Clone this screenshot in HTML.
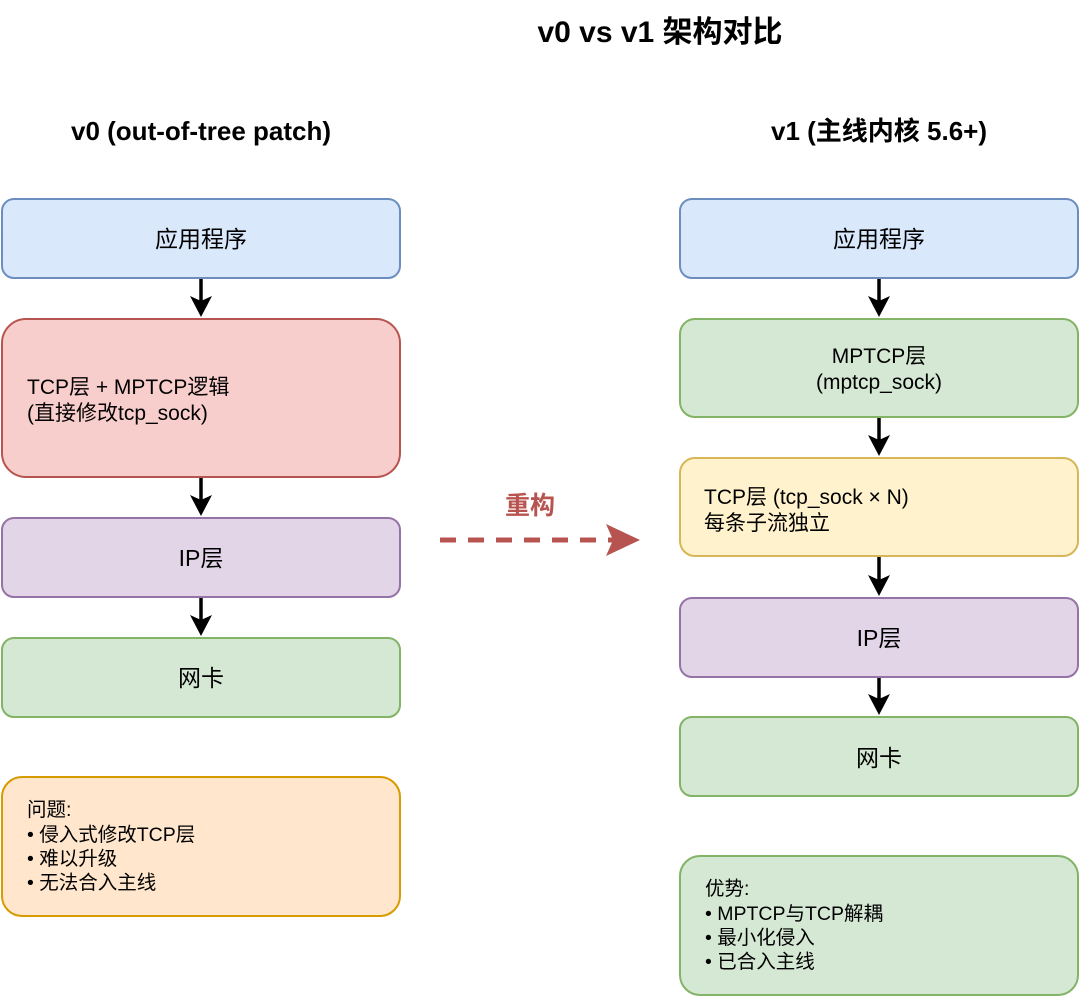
<!DOCTYPE html>
<html><head><meta charset="utf-8"><style>
html,body{margin:0;padding:0;background:#fff;}
svg{display:block;font-family:"Liberation Sans","Noto Sans CJK SC",sans-serif;}
</style></head><body>
<svg width="1080" height="998" viewBox="0 0 1080 998" xmlns="http://www.w3.org/2000/svg">
<text x="660" y="42" font-size="30" font-weight="bold" text-anchor="middle">v0 vs v1 架构对比</text>
<text x="201" y="140" font-size="26" font-weight="bold" text-anchor="middle">v0 (out-of-tree patch)</text>
<text x="879" y="140" font-size="26" font-weight="bold" text-anchor="middle">v1 (主线内核 5.6+)</text>

<g stroke-width="2">
<rect x="2" y="199" width="398" height="79" rx="12" fill="#dae8fc" stroke="#6c8ebf"/>
<rect x="2" y="319" width="398" height="158" rx="24" fill="#f8cecc" stroke="#b85450"/>
<rect x="2" y="518" width="398" height="79" rx="12" fill="#e1d5e7" stroke="#9673a6"/>
<rect x="2" y="638" width="398" height="79" rx="12" fill="#d5e8d4" stroke="#82b366"/>
<rect x="2" y="777" width="398" height="139" rx="20" fill="#ffe6cc" stroke="#d79b00"/>

<rect x="680" y="199" width="398" height="79" rx="12" fill="#dae8fc" stroke="#6c8ebf"/>
<rect x="680" y="319" width="398" height="98" rx="15" fill="#d5e8d4" stroke="#82b366"/>
<rect x="680" y="458" width="398" height="98" rx="15" fill="#fff2cc" stroke="#d6b656"/>
<rect x="680" y="598" width="398" height="79" rx="12" fill="#e1d5e7" stroke="#9673a6"/>
<rect x="680" y="717" width="398" height="79" rx="12" fill="#d5e8d4" stroke="#82b366"/>
<rect x="680" y="856" width="398" height="139" rx="20" fill="#d5e8d4" stroke="#82b366"/>
</g>

<g stroke="#000" stroke-width="3.5">
<line x1="201" y1="279" x2="201" y2="302"/>
<line x1="201" y1="478" x2="201" y2="501"/>
<line x1="201" y1="598" x2="201" y2="621"/>
<line x1="879" y1="279" x2="879" y2="302"/>
<line x1="879" y1="418" x2="879" y2="441"/>
<line x1="879" y1="557" x2="879" y2="581"/>
<line x1="879" y1="678" x2="879" y2="700"/>
</g>
<g fill="#000">
<path d="M190,296 L201,317 L212,296 L201,301 z"/>
<path d="M190,495 L201,516 L212,495 L201,500 z"/>
<path d="M190,615 L201,636 L212,615 L201,620 z"/>
<path d="M868,296 L879,317 L890,296 L879,301 z"/>
<path d="M868,435 L879,456 L890,435 L879,440 z"/>
<path d="M868,575 L879,596 L890,575 L879,580 z"/>
<path d="M868,694 L879,715 L890,694 L879,699 z"/>
</g>

<line x1="440" y1="540" x2="614" y2="540" stroke="#b85450" stroke-width="5" stroke-dasharray="16,12"/>
<path d="M606,524 L640,540 L606,556 L613,540 z" fill="#b85450"/>
<text x="530" y="514" font-size="25" font-weight="bold" fill="#b85450" text-anchor="middle">重构</text>

<g font-size="23" text-anchor="middle">
<text x="201" y="247">应用程序</text>
<text x="201" y="566">IP层</text>
<text x="201" y="686">网卡</text>
<text x="879" y="247">应用程序</text>
<text x="879" y="646">IP层</text>
<text x="879" y="766">网卡</text>
<text x="879" y="363" font-size="21">MPTCP层</text>
<text x="879" y="389" font-size="21">(mptcp_sock)</text>
</g>
<g font-size="21">
<text x="27" y="394">TCP层 + MPTCP逻辑</text>
<text x="27" y="420">(直接修改tcp_sock)</text>
<text x="704" y="504">TCP层 (tcp_sock × N)</text>
<text x="704" y="530">每条子流独立</text>
</g>
<g font-size="19.5">
<text x="27" y="816">问题:</text>
<text x="27" y="841">• 侵入式修改TCP层</text>
<text x="27" y="865">• 难以升级</text>
<text x="27" y="889">• 无法合入主线</text>
<text x="705" y="895">优势:</text>
<text x="705" y="920">• MPTCP与TCP解耦</text>
<text x="705" y="944">• 最小化侵入</text>
<text x="705" y="968">• 已合入主线</text>
</g>
</svg>
</body></html>
